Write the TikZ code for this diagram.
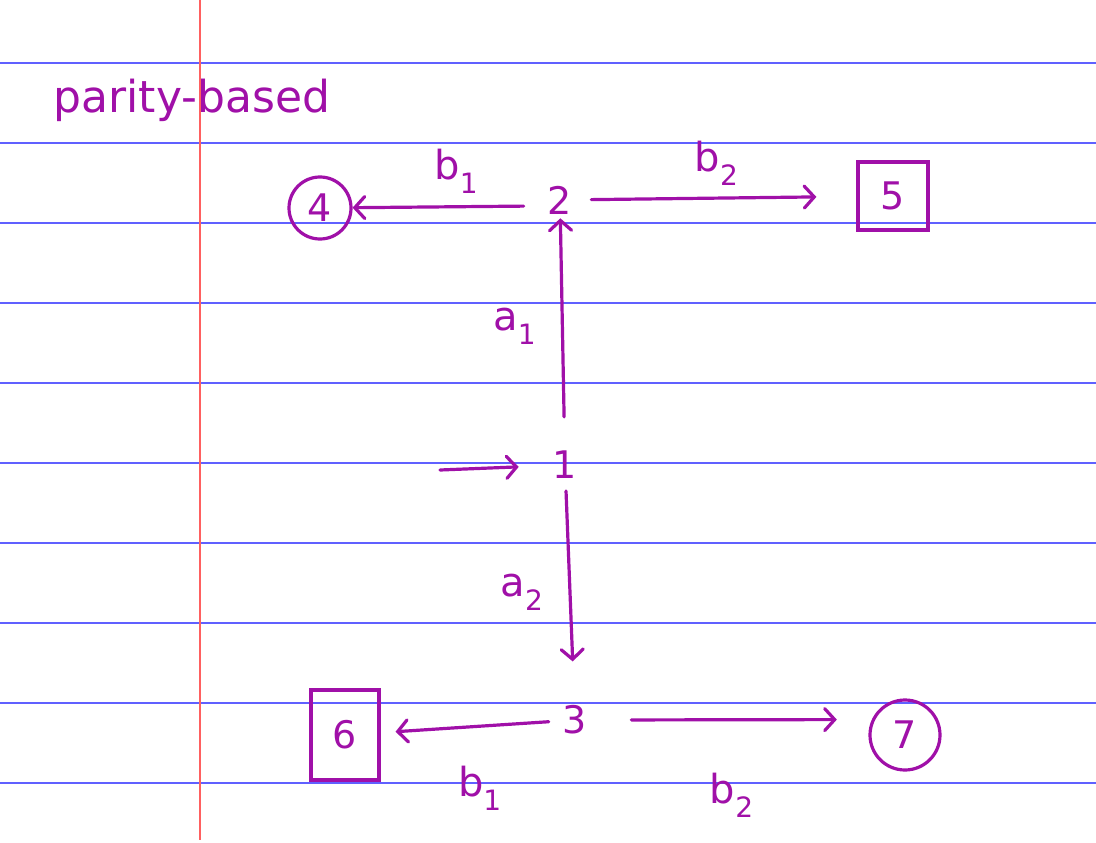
\documentclass[tikz,border=0pt]{standalone}
\usepackage{fontspec}
\setmainfont{DejaVu Sans}
\usetikzlibrary{arrows.meta}
\definecolor{ink}{RGB}{160,16,168}
\definecolor{rule}{RGB}{96,96,255}
\definecolor{margin}{RGB}{255,96,96}
\newcommand{\sublab}[2]{#1\raisebox{-0.35em}{\fontsize{28}{30}\selectfont #2}}
\tikzset{
  paperline/.style={rule, line width=1.5pt},
  num/.style={ink, font=\fontsize{38}{44}\selectfont, inner sep=4pt},
  circ/.style={num, draw=ink, circle, line width=3.2pt, minimum size=62pt},
  boxed/.style={num, draw=ink, rectangle, line width=3.2pt},
  edge/.style={ink, line width=3.2pt, line cap=round, -{Straight Barb[length=10pt,width=22pt,line cap=round]}},
  lab/.style={ink, font=\fontsize{40}{46}\selectfont},
}
\begin{document}
\begin{tikzpicture}[x=1pt,y=-1pt]
\useasboundingbox (0,0) rectangle (1096,843);
\fill[white] (0,0) rectangle (1096,843);
\foreach \y in {63,143,223,303,383,463,543,623,703,783}
  \draw[paperline] (0,\y) -- (1096,\y);
\draw[margin, line width=1.5pt] (200,0) -- (200,840);
\node[ink, font=\fontsize{44}{52}\selectfont, anchor=west] (title) at (50,100) {parity-based};
\node[circ] (n4) at (320,208) {4};
\node[num] (n2) at (560,200) {2};
\node[boxed, minimum width=70pt, minimum height=68pt] (n5) at (893,196) {5};
\node[num] (n1) at (565,465) {1};
\node[num] (n3) at (575,720) {3};
\node[boxed, minimum width=68pt, minimum height=90pt] (n6) at (345,735) {6};
\node[circ, minimum size=70pt] (n7) at (905,735) {7};
\coordinate (s) at (440,470);
\draw[edge, shorten <=20pt] (n2.200) -- node[lab, above=8pt, xshift=8pt] {\sublab{b}{1}} (n4);
\draw[edge, shorten <=15pt, shorten >=40pt] (n2) -- node[lab, above=8pt] {\sublab{b}{2}} (n5);
\draw[edge, shorten <=30pt] (n1) -- node[lab, left=22pt, yshift=6pt] {\sublab{a}{1}} (n2);
\draw[edge, shorten <=8pt, shorten >=40pt] (n1) -- node[lab, left=22pt] {\sublab{a}{2}} (n3);
\draw[edge, shorten >=30pt] (s) -- (n1);
\draw[edge, shorten <=10pt, shorten >=15pt] (n3) -- node[lab, below=34pt, xshift=10pt] {\sublab{b}{1}} (n6);
\draw[edge, shorten <=40pt, shorten >=35pt] (n3.east) -- node[lab, below=48pt] {\sublab{b}{2}} (n7.155);
\end{tikzpicture}
\end{document}
